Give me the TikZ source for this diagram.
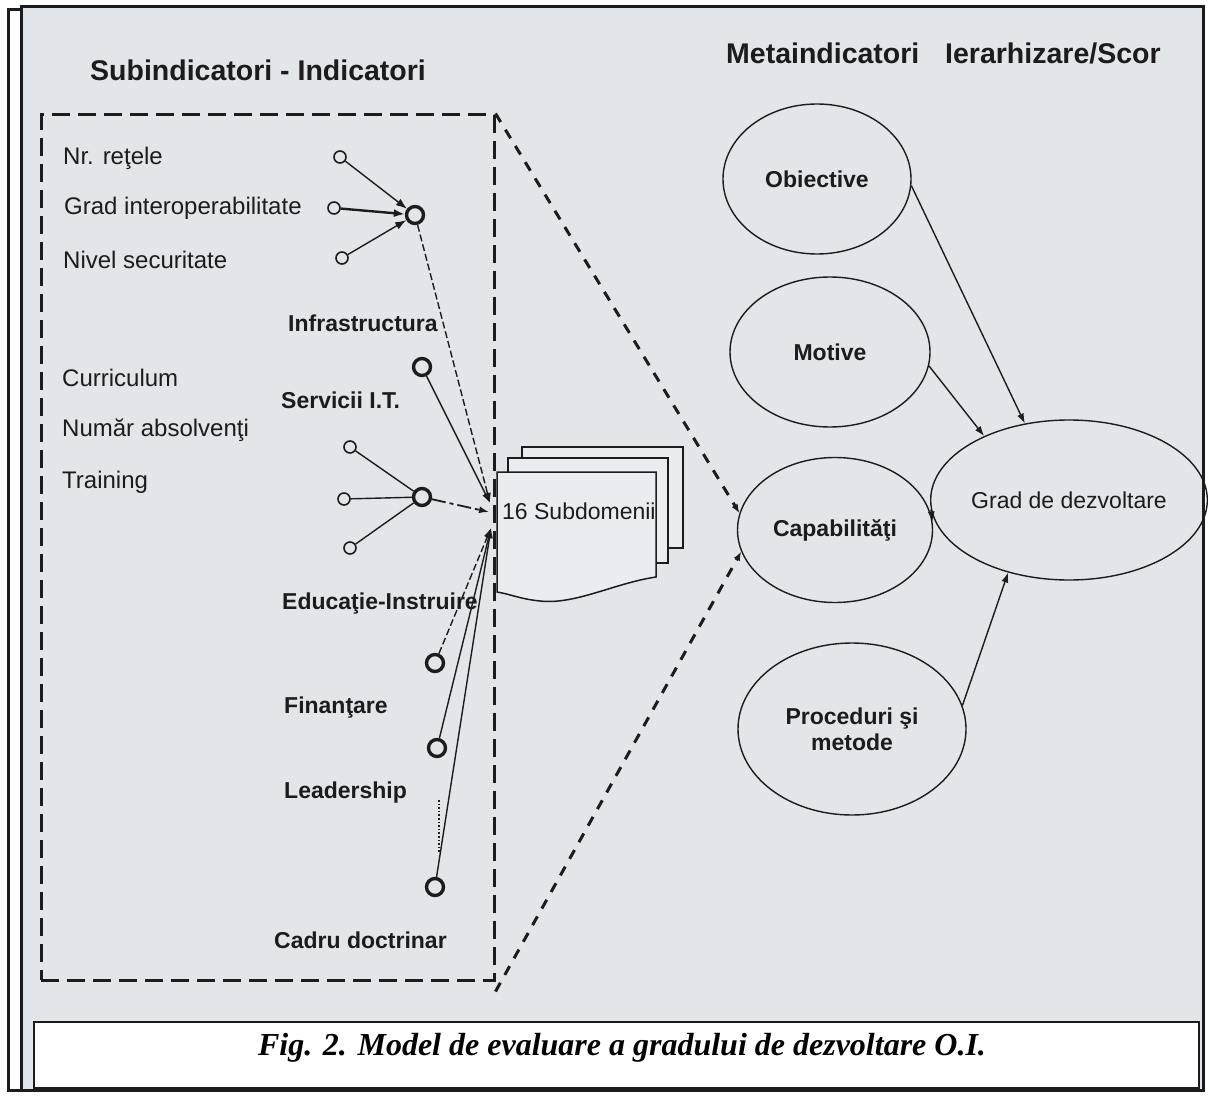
\documentclass[tikz,border=0pt]{standalone}
\usepackage{fontspec}
\setmainfont{Liberation Sans}
\newfontfamily\capfont{Liberation Serif}
\usetikzlibrary{arrows.meta,shapes.geometric}
\definecolor{paper}{RGB}{226,229,234}
\definecolor{sheet}{RGB}{233,236,241}
\definecolor{ink}{RGB}{28,28,30}
\begin{document}
\begin{tikzpicture}[x=1pt,y=-1pt,
  lbl/.style={anchor=west, inner sep=0pt, text=ink, font=\fontsize{24}{27}\selectfont},
  blbl/.style={anchor=west, inner sep=0pt, text=ink, font=\fontsize{23}{26}\selectfont\bfseries},
  ttl/.style={anchor=west, inner sep=0pt, text=ink, font=\fontsize{28.5}{31}\selectfont\bfseries},
  subc/.style={circle, draw=ink, line width=1.6pt, minimum size=12pt, inner sep=0pt},
  aggc/.style={circle, draw=ink, line width=3.4pt, minimum size=17pt, inner sep=0pt},
  meta/.style={ellipse, draw=ink, line width=1.4pt, inner sep=0pt, align=center, text=ink,
               font=\fontsize{23}{26}\selectfont\bfseries},
  conn/.style={draw=ink, line width=1.4pt},
  arr/.style={conn, -{Latex[length=11pt,width=8pt]}},
  thinarr/.style={conn, -{Latex[length=10pt,width=7pt]}},
  longdash/.style={draw=ink, line width=3pt, dash pattern=on 10pt off 9pt, -{Latex[length=9pt,width=7pt]}},
  page/.style={draw=ink, line width=1.8pt, fill=sheet},
]
\useasboundingbox (0,0) rectangle (1208,1102);
\fill[white] (0,0) rectangle (1208,1102);
% frame and paper
\fill[paper] (21,7) rectangle (1203,1090);
\draw[ink, line width=3pt] (21,7) rectangle (1203,1090);
\draw[ink, line width=3pt] (21,10) -- (8,10) -- (8,1090) -- (21,1090);
% caption box
\draw[ink, line width=2.6pt, fill=white] (34,1022) rectangle (1199,1088);
\node[inner sep=0pt, text=black, font=\capfont\bfseries\itshape\fontsize{32}{36}\selectfont] (cap0) at (622,1048) {Fig. 2. Model de evaluare a gradului de dezvoltare O.I.};

% titles
\node[ttl] (t1) at (90,70) {Subindicatori - Indicatori};
\node[ttl] (t2) at (726,53) {Metaindicatori};
\node[ttl] (t3) at (945,53) {Ierarhizare/Scor};

% dashed group box
\node[draw=ink, line width=3pt, dash pattern=on 18pt off 8pt, minimum width=453pt, minimum height=865pt, inner sep=0pt] (box) at (267.5,547.5) {};

% left labels
\node[lbl] (l1) at (63,158) {Nr. reţele};
\node[lbl] (l2) at (64,208) {Grad interoperabilitate};
\node[lbl] (l3) at (63,260) {Nivel securitate};
\node[lbl] (l4) at (62,378) {Curriculum};
\node[lbl] (l5) at (62,430) {Număr absolvenţi};
\node[lbl] (l6) at (62,482) {Training};

% middle labels
\node[blbl] (m1) at (288,323) {Infrastructura};
\node[blbl] (m2) at (281,400) {Servicii I.T.};
\node[blbl] (m3) at (282,604) {Educaţie-Instruire};
\node[blbl] (m4) at (284,708) {Finanţare};
\node[blbl] (m5) at (284,793) {Leadership};
\node[blbl] (m6) at (274,940) {Cadru doctrinar};

% sub-indicator circles
\node[subc] (s1) at (340,157) {};
\node[subc] (s2) at (334,208) {};
\node[subc] (s3) at (342,258) {};
\node[subc] (s4) at (350,447) {};
\node[subc] (s5) at (344,499) {};
\node[subc] (s6) at (350,548) {};

% indicator circles
\node[aggc] (inf) at (415,215) {};
\node[aggc] (srv) at (422,367) {};
\node[aggc] (trn) at (422,497) {};
\node[aggc] (edu) at (435,663) {};
\node[aggc] (fin) at (437,748) {};
\node[aggc] (ldr) at (435,887) {};

% stacked pages "16 Subdomenii"
\draw[page] (522,447) rectangle (683,548);
\draw[page] (508,458) rectangle (668,563);
\draw[page, line width=1.5pt] (497,472) -- (656,472) -- (656,577)
   .. controls (615,583) and (575,605) .. (540,601)
   .. controls (520,599) and (510,594) .. (497,592) -- cycle;
\node[lbl, font=\fontsize{23}{26}\selectfont] (sd) at (502,511) {16 Subdomenii};
\coordinate (hubA) at (490,503);
\coordinate (hubB) at (489,512);
\coordinate (hubC) at (491,528);

% connectors into Infrastructura
\draw[arr] (s1) -- (inf);
\draw[arr, line width=2.4pt] (s2) -- (inf);
\draw[arr] (s3) -- (inf);
% training cluster
\draw[conn] (s4) -- (trn);
\draw[conn] (s5) -- (trn);
\draw[conn] (s6) -- (trn);
% indicators to subdomains
\draw[thinarr, dash pattern=on 7pt off 3pt] (inf) -- (hubA);
\draw[thinarr] (srv) -- (hubA);
\draw[thinarr, line width=1.8pt, dash pattern=on 14pt off 4pt on 4pt off 4pt] (trn) -- (hubB);
\draw[thinarr, dash pattern=on 7pt off 3pt] (edu) -- (hubC);
\draw[thinarr] (fin) -- (hubC);
\draw[thinarr] (ldr) -- (hubC);
\coordinate (d1) at (439,800);
\coordinate (d2) at (439,853);
\draw[ink, line width=1.6pt, dotted] (d1) -- (d2);

% meta-indicators
\node[meta, minimum width=188pt, minimum height=150pt] (obj) at (817,179) {Obiective};
\node[meta, minimum width=200pt, minimum height=150pt] (mot) at (830,352) {Motive};
\node[meta, minimum width=195pt, minimum height=145pt] (cap) at (835,530) {Capabilităţi};
\node[meta, minimum width=228pt, minimum height=172pt] (prc) at (852,729) {Proceduri şi\\metode};
\node[meta, minimum width=234pt, minimum height=160pt, font=\fontsize{23}{26}\selectfont] (grd) at (1069,500) {Grad de dezvoltare};

% long dashed lines from the group box
\draw[longdash] (box.north east) -- (cap.170);
\draw[longdash] ([yshift=-10pt]box.south east) -- (cap.193);

% arrows to / from Grad de dezvoltare
\draw[thinarr] (obj.-4) -- (grd.120);
\draw[thinarr] (mot.-8) -- (grd.143);
\draw[thinarr] (prc.12) -- (grd.-130);
\draw[thinarr] (grd.184) -- (cap.5);
\end{tikzpicture}
\end{document}
